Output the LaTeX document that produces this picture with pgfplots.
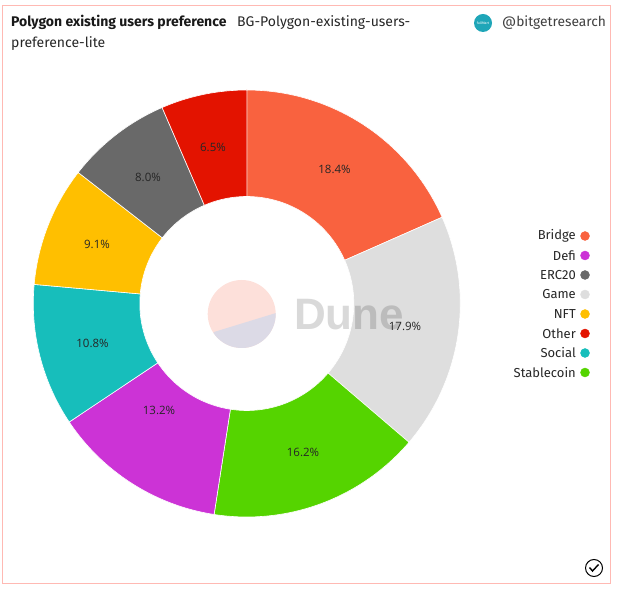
\documentclass[border=0pt]{standalone}
\usepackage{pgfplots}
\pgfplotsset{compat=1.18}
\usepackage{fontspec}
\setmainfont{Fira Sans}
\newfontfamily\dunefont{Liberation Sans}
\newfontfamily\labfont{Open Sans}
\definecolor{cBridge}{HTML}{F9623F}
\definecolor{cDefi}{HTML}{CC33D6}
\definecolor{cERC}{HTML}{696969}
\definecolor{cGame}{HTML}{DEDEDE}
\definecolor{cNFT}{HTML}{FFBF00}
\definecolor{cOther}{HTML}{E31300}
\definecolor{cSocial}{HTML}{17BEBB}
\definecolor{cStable}{HTML}{55D400}
\definecolor{cBorder}{HTML}{FFB9B3}
\definecolor{cLogo}{HTML}{1FA6B8}
\newcommand\slice[3]{%
  \gdef\pts{}%
  \pgfplotsforeachungrouped \i in {0,...,40}{%
    \pgfmathsetmacro\ang{90-3.5964*(#1+#2*\i/40)}%
    \pgfmathsetmacro\px{246.8+213.5*cos(\ang)}%
    \pgfmathsetmacro\py{284.5+213.5*sin(\ang)}%
    \xdef\pts{\pts(\px,\py)}%
  }%
  \pgfplotsforeachungrouped \i in {40,39,...,0}{%
    \pgfmathsetmacro\ang{90-3.5964*(#1+#2*\i/40)}%
    \pgfmathsetmacro\px{246.8+107*cos(\ang)}%
    \pgfmathsetmacro\py{284.5+107*sin(\ang)}%
    \xdef\pts{\pts(\px,\py)}%
  }%
  \edef\temp{\noexpand\addplot[fill=#3,draw=white,line width=0.6pt] coordinates {\pts} -- cycle;}%
  \temp
}
\newcommand\lab[3]{\node[font=\labfont\fontsize{11.5}{13}\selectfont,text=black!85] at (axis cs:#1,#2) {#3};}
\newcommand\leg[3]{%
  \node[anchor=east,inner sep=0pt,font=\fontsize{13}{15}\selectfont,text=black!85] at (axis cs:576,#1) {#2};
  \addplot[only marks,mark=*,mark size=4.5pt,color=#3] coordinates {(585,#1)};
}
\begin{document}
\begin{tikzpicture}
\begin{axis}[
  scale only axis,width=617pt,height=588pt,
  xmin=0,xmax=617,ymin=0,ymax=588,
  axis lines=none,clip=false]
\path (axis cs:0,0) rectangle (axis cs:617,588);
% border
\draw[cBorder,line width=0.9pt] (axis cs:2.5,5) rectangle (axis cs:610.5,583);
% slices: start, value, colour
\slice{0}{18.4}{cBridge}
\slice{18.4}{17.9}{cGame}
\slice{36.3}{16.2}{cStable}
\slice{52.5}{13.2}{cDefi}
\slice{65.7}{10.8}{cSocial}
\slice{76.5}{9.1}{cNFT}
\slice{85.6}{8.0}{cERC}
\slice{93.6}{6.5}{cOther}
% watermark
\fill[color={rgb,255:red,253;green,224;blue,218}] (axis cs:241.7,274) circle[radius=34pt];
\begin{scope}
\clip (axis cs:214,256) -- (axis cs:276,275) -- (axis cs:300,220) -- (axis cs:190,220) -- cycle;
\fill[color={rgb,255:red,220;green,218;blue,230}] (axis cs:241.7,274) circle[radius=34pt];
\end{scope}
\node[anchor=base west,inner sep=0pt,text=black,opacity=0.15,font=\dunefont\bfseries\fontsize{44}{50}\selectfont] at (axis cs:294,258) {Dune};
% value labels
\lab{334.5}{419}{18.4\%}
\lab{405}{262}{17.9\%}
\lab{303}{136}{16.2\%}
\lab{159}{178}{13.2\%}
\lab{92.5}{245}{10.8\%}
\lab{97}{344}{9.1\%}
\lab{148}{411}{8.0\%}
\lab{213}{441}{6.5\%}
% title
\node[anchor=west,inner sep=0pt,font=\bfseries\fontsize{14}{16}\selectfont,text=black!90] at (axis cs:11,565.5) {Polygon existing users preference};
\node[anchor=west,inner sep=0pt,font=\fontsize{14}{16}\selectfont,text=black!85] at (axis cs:237,565.5) {BG-Polygon-existing-users-};
\node[anchor=west,inner sep=0pt,font=\fontsize{14}{16}\selectfont,text=black!85] at (axis cs:11,544) {preference-lite};
\fill[cLogo] (axis cs:483,565) circle[radius=9pt];
\node[font=\fontsize{3.5}{4}\selectfont,text=white,inner sep=0pt] at (axis cs:483,565) {fullMart};
\node[anchor=west,inner sep=0pt,font=\fontsize{13.8}{16}\selectfont,text=black!75] at (axis cs:502,565.5) {@bitgetresearch};
% legend
\leg{352}{Bridge}{cBridge}
\leg{332.5}{Defi}{cDefi}
\leg{313}{ERC20}{cERC}
\leg{293.5}{Game}{cGame}
\leg{274}{NFT}{cNFT}
\leg{254.5}{Other}{cOther}
\leg{235}{Social}{cSocial}
\leg{215.5}{Stablecoin}{cStable}
% check mark
\draw[black,line width=1pt] (axis cs:594,20) circle[radius=8.5pt];
\draw[black,line width=1.4pt] (axis cs:589.5,20.5) -- (axis cs:592.5,17) -- (axis cs:598.5,23.5);
\end{axis}
\end{tikzpicture}
\end{document}
